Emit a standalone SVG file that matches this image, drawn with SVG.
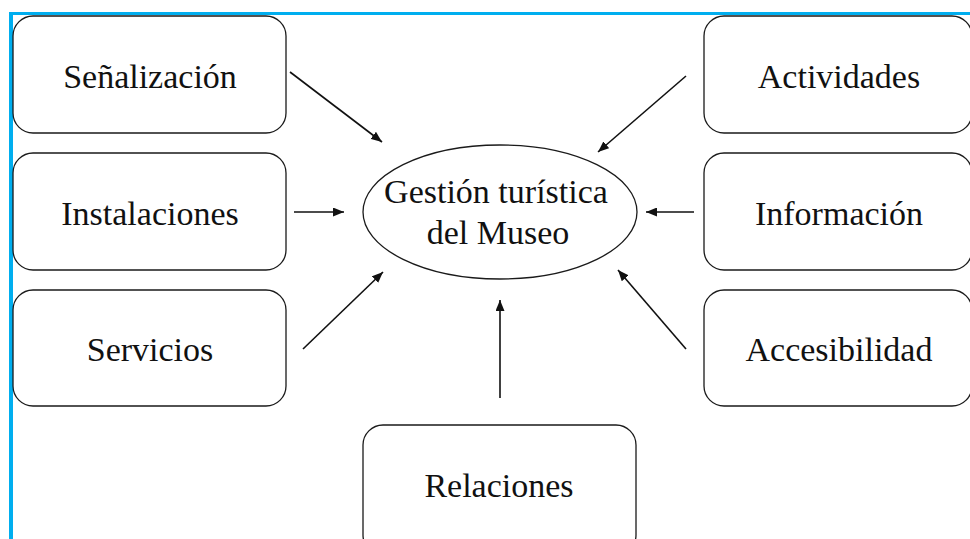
<svg xmlns="http://www.w3.org/2000/svg" width="970" height="539" viewBox="0 0 970 539">
<style>
.box{fill:#fff;stroke:#1a1a1a;stroke-width:1.3}
.t{font-family:'Liberation Serif','Times New Roman','DejaVu Serif',serif;font-size:34px;fill:#111;text-anchor:middle}
.c{stroke:#111;stroke-width:1.6;fill:none;marker-end:url(#ah)}
</style>
<defs>
<marker id="ah" viewBox="0 0 10 10" refX="10" refY="5" markerWidth="11" markerHeight="9" markerUnits="userSpaceOnUse" orient="auto" preserveAspectRatio="none">
<path d="M0,0 L10,5 L0,10 z" fill="#111"/>
</marker>
</defs>
<rect width="970" height="539" fill="#fff"/>
<rect x="9" y="12" width="961" height="3" fill="#00AEEF"/>
<rect x="9" y="12" width="4" height="527" fill="#00AEEF"/>
<g id="senalizacion"><rect class="box" x="13" y="16" width="273" height="117" rx="20"/><text class="t" x="150" y="88" font-family="Liberation Serif, serif">Señalización</text></g>
<g id="instalaciones"><rect class="box" x="13" y="153" width="273" height="117" rx="20"/><text class="t" x="150" y="225" font-family="Liberation Serif, serif">Instalaciones</text></g>
<g id="servicios"><rect class="box" x="13" y="290" width="273" height="116" rx="20"/><text class="t" x="150" y="361" font-family="Liberation Serif, serif">Servicios</text></g>
<g id="actividades"><rect class="box" x="704" y="16" width="268" height="117" rx="20"/><text class="t" x="839" y="88" font-family="Liberation Serif, serif">Actividades</text></g>
<g id="informacion"><rect class="box" x="704" y="153" width="268" height="117" rx="20"/><text class="t" x="839" y="225" font-family="Liberation Serif, serif">Información</text></g>
<g id="accesibilidad"><rect class="box" x="704" y="290" width="268" height="116" rx="20"/><text class="t" x="839" y="361" font-family="Liberation Serif, serif">Accesibilidad</text></g>
<g id="relaciones"><rect class="box" x="363" y="425" width="273" height="130" rx="20"/><text class="t" x="499" y="497" font-family="Liberation Serif, serif">Relaciones</text></g>
<g id="gestion"><ellipse class="box" cx="500" cy="212" rx="137" ry="67"/><text class="t" x="496" y="203" font-family="Liberation Serif, serif">Gestión turística</text><text class="t" x="498" y="244" font-family="Liberation Serif, serif">del Museo</text></g>
<g id="connectors">
<line class="c" x1="290" y1="72" x2="382" y2="142"/>
<line class="c" x1="294" y1="212" x2="344" y2="212"/>
<line class="c" x1="303" y1="349" x2="383" y2="272"/>
<line class="c" x1="686" y1="76" x2="598" y2="152"/>
<line class="c" x1="694" y1="212" x2="646" y2="212"/>
<line class="c" x1="686" y1="349" x2="618" y2="270"/>
<line class="c" x1="500" y1="398" x2="500" y2="300"/>
</g>
</svg>
